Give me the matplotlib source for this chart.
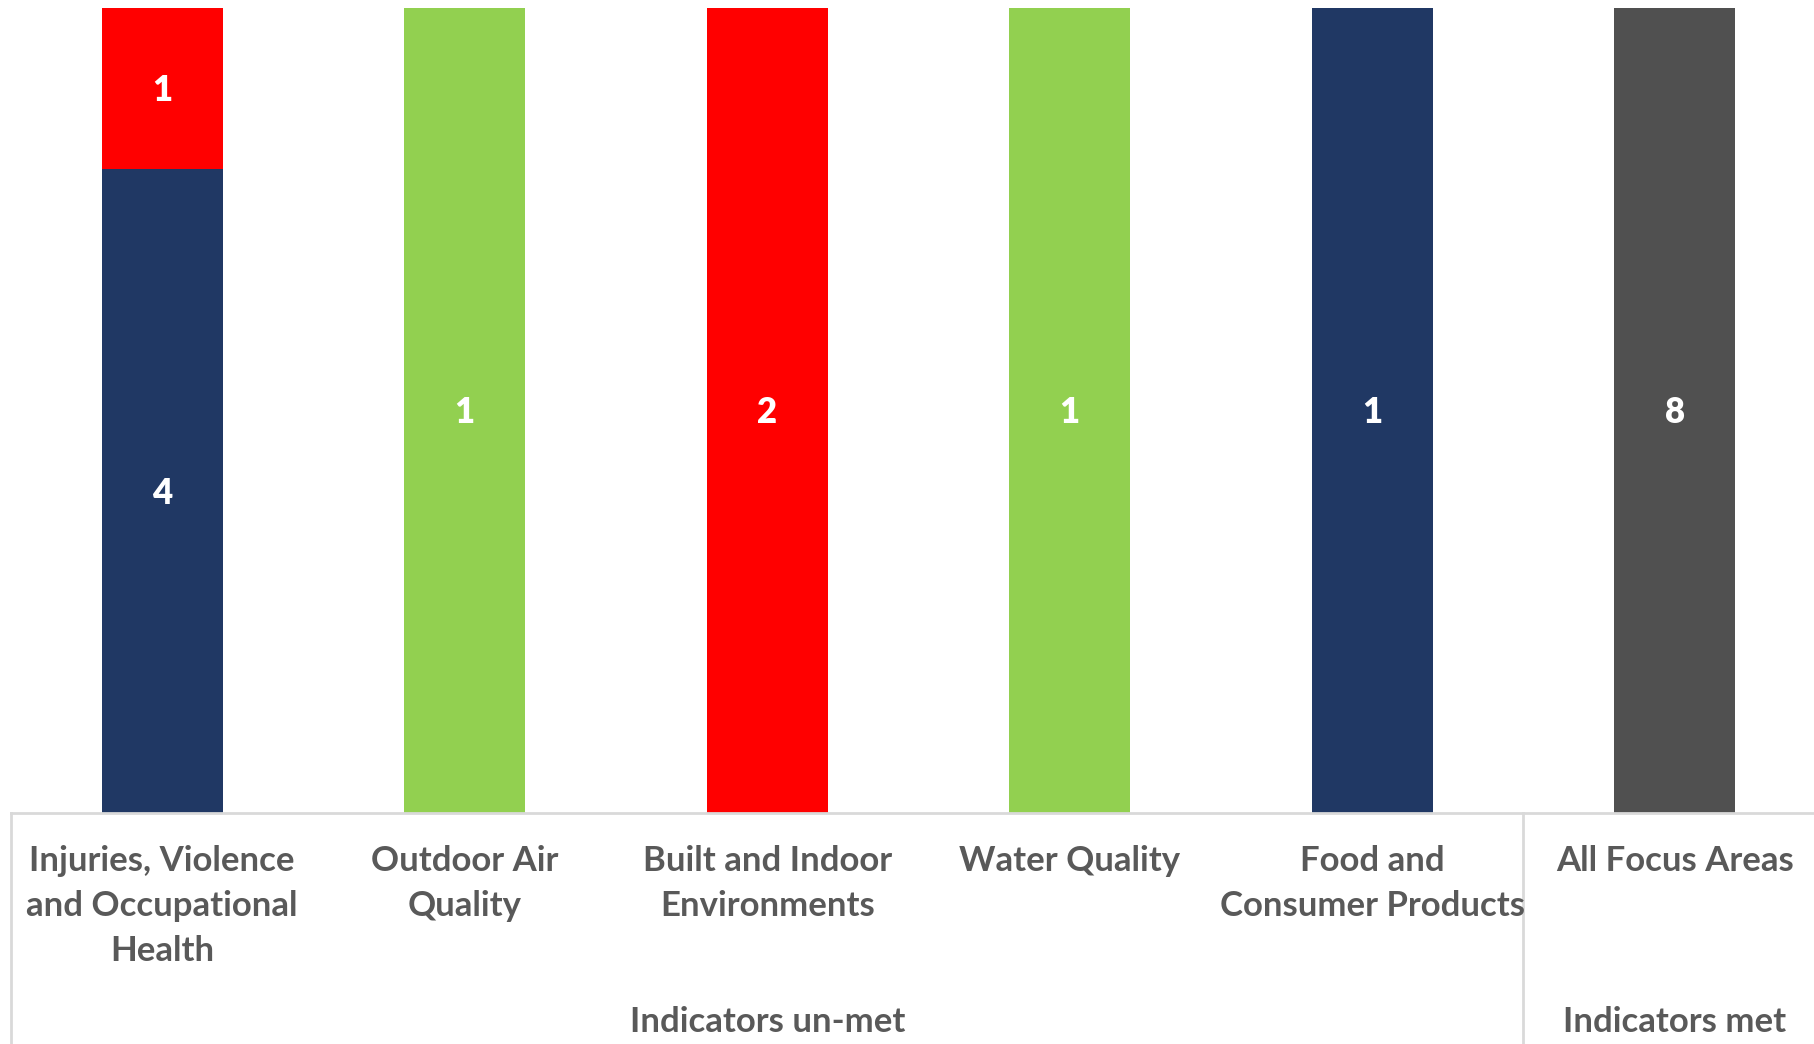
import numpy as np
import matplotlib
matplotlib.use("Agg")
import matplotlib.pyplot as plt
import matplotlib.transforms as mtransforms

plt.rcParams['font.family'] = ['Lato', 'DejaVu Sans']

# data
categories = ["Injuries, Violence\nand Occupational\nHealth", "Outdoor Air\nQuality",
               "Built and Indoor\nEnvironments", "Water Quality",
               "Food and\nConsumer Products", "All Focus Areas"]
navy_vals = [4, 0, 0, 0, 1, 0]
red_vals = [1, 0, 2, 0, 0, 0]
green_vals = [0, 1, 0, 1, 0, 0]
gray_vals = [0, 0, 0, 0, 0, 8]
groups = ["Indicators un-met", "Indicators met"]
group_sizes = [5, 1]

series = [(navy_vals, "#203864"), (red_vals, "#FF0000"),
          (green_vals, "#92D050"), (gray_vals, "#505050")]
totals = np.sum([s[0] for s in series], axis=0)

fig = plt.figure(figsize=(18.14, 10.44), dpi=100)
ax = fig.add_axes([11 / 1814, 231 / 1044, 1815 / 1814, 805 / 1044])

x = np.arange(len(categories))
bottom = np.zeros(len(categories))
for vals, color in series:
    vals = np.array(vals, dtype=float)
    frac = vals / totals
    bars = ax.bar(x, frac, width=0.4, bottom=bottom, color=color)
    labels = [str(int(v)) if v > 0 else "" for v in vals]
    ax.bar_label(bars, labels=labels, label_type='center', color='white',
                 fontsize=25, fontweight='heavy', padding=-1.5)
    bottom += frac

ax.set_xlim(-0.5, len(categories) - 0.5)
ax.set_ylim(0, 1)
for s in ['top', 'right', 'left']:
    ax.spines[s].set_visible(False)
ax.spines['bottom'].set_color('#d9d9d9')
ax.spines['bottom'].set_linewidth(2)
ax.set_yticks([])
ax.set_xticks([])

trans = mtransforms.blended_transform_factory(ax.transData, ax.transAxes)
for i, c in enumerate(categories):
    ax.text(i, -0.040, c, transform=trans, ha='center', va='top', fontsize=25,
            fontweight='bold', color='#595959', linespacing=1.5)

# group labels and separators
start = 0
for g, n in zip(groups, group_sizes):
    ax.text(start + (n - 1) / 2, -0.26, g, transform=trans, ha='center', va='center',
            fontsize=25, fontweight='bold', color='#595959')
    ax.plot([start - 0.5, start - 0.5], [0, -0.3], transform=trans, color='#d9d9d9',
            lw=2, clip_on=False)
    start += n

fig.savefig("out.png", dpi=100)
